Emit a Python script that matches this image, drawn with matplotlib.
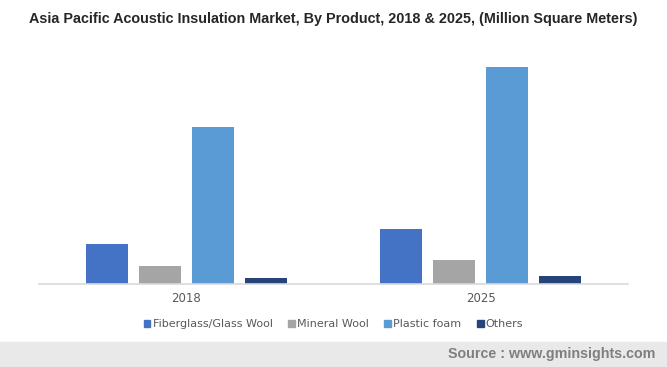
import matplotlib
matplotlib.use("Agg")
import matplotlib.pyplot as plt
from matplotlib.patches import Patch, Rectangle
import numpy as np

plt.rcParams["font.family"] = ["Liberation Sans", "DejaVu Sans"]

years = ["2018", "2025"]
products = ["Fiberglass/Glass Wool", "Mineral Wool", "Plastic foam", "Others"]
fiberglass = [400, 550]
mineral = [180, 240]
plastic = [1570, 2170]
others = [60, 80]
series = [fiberglass, mineral, plastic, others]
colors = ["#4472C4", "#A5A5A5", "#5B9BD5", "#264478"]

W, H = 667, 367
fig = plt.figure(figsize=(W / 100, H / 100), dpi=100)
ax = fig.add_axes([39 / W, (H - 284) / H, (628 - 39) / W, (284 - 45) / H])

x = np.arange(len(years))
step = 0.18
width = 0.1426
for i, (vals, c) in enumerate(zip(series, colors)):
    ax.bar(x + (i - 1.5) * step, vals, width=width, color=c, label=products[i])

ax.set_xlim(-0.5, 1.5)
ax.set_ylim(0, 2390)
ax.set_yticks([])
ax.set_xticks(x)
ax.set_xticklabels(years, fontsize=8.5, color="#595959", family=["DejaVu Sans"])
ax.tick_params(axis="x", length=0, pad=6)
for s in ("top", "right", "left"):
    ax.spines[s].set_visible(False)
ax.spines["bottom"].set_color("#d9d9d9")
ax.spines["bottom"].set_linewidth(1.2)

handles = [Patch(color=c) for c in colors]
fig.legend(handles, products, loc="center", bbox_to_anchor=(0.5, (H - 324) / H),
           ncol=4, frameon=False, handlelength=0.6, handleheight=0.6, handletextpad=0.2,
           columnspacing=1.4, prop={"family": "DejaVu Sans", "size": 8}, labelcolor="#595959")

fig.text(0.5, (H - 19) / H, "Asia Pacific Acoustic Insulation Market, By Product, 2018 & 2025, (Million Square Meters)",
         ha="center", va="center", fontsize=10.35, fontweight="bold", color="#262626")

fig.patches.append(Rectangle((0, 0), 1, (H - 342) / H, transform=fig.transFigure,
                             color="#e9e9e9", zorder=0))
fig.text(655 / W, (H - 354) / H, "Source : www.gminsights.com", ha="right", va="center",
         fontsize=10.3, fontweight="bold", color="#7f7f7f")

fig.savefig("out.png", dpi=100)
